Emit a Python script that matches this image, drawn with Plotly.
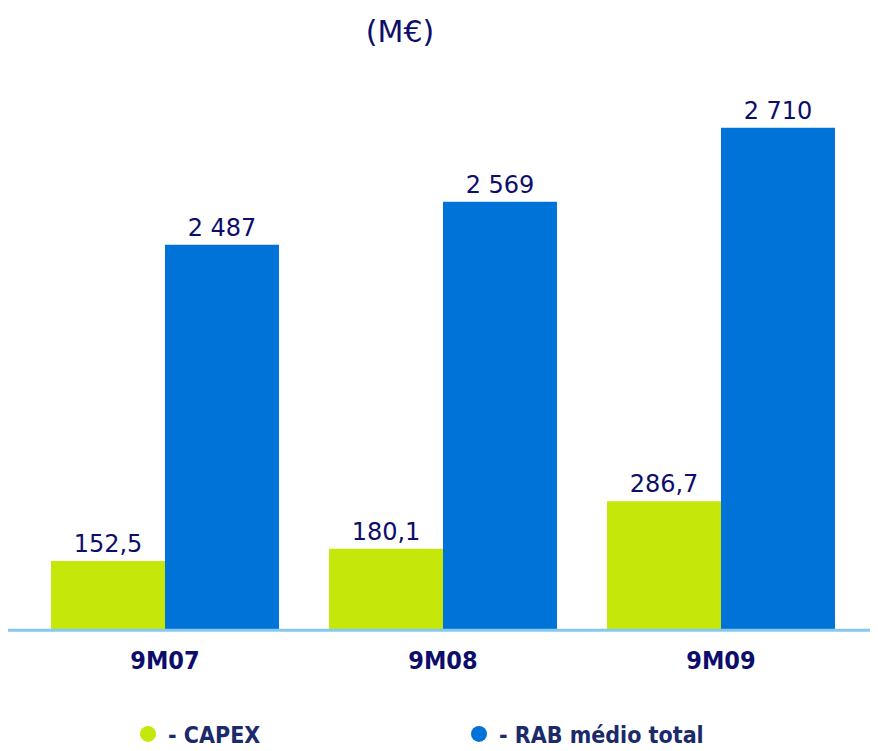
import plotly.graph_objects as go

categories = ["9M07", "9M08", "9M09"]
capex = [152.5, 180.1, 286.7]
rab = [2487, 2569, 2710]
series_names = ["- CAPEX", "- RAB médio total"]

GREEN = "#c5e80a"
BLUE = "#0073d9"
NAVY = "#0d0d6b"
LEG = "#1b2a6b"

# page body has an 8px default margin, so the figure is sized to fit the window
W, H = 870, 743


def fmt_dec(v):
    return f"{v:.1f}".replace(".", ",")


def fmt_int(v):
    return f"{v:,.0f}".replace(",", " ")


fig = go.Figure()
fig.add_trace(go.Bar(
    x=categories, y=capex, yaxis="y2", name=series_names[0],
    marker=dict(color=GREEN, line=dict(width=0)),
    width=0.41, offset=-0.41,
    text=[fmt_dec(v) for v in capex], textposition="outside",
    textfont=dict(family="DejaVu Sans", size=24, color=NAVY),
    cliponaxis=False, showlegend=False,
))
fig.add_trace(go.Bar(
    x=categories, y=rab, yaxis="y", name=series_names[1],
    marker=dict(color=BLUE, line=dict(width=0)),
    width=0.41, offset=0,
    text=[fmt_int(v) for v in rab], textposition="outside",
    textfont=dict(family="DejaVu Sans", size=24, color=NAVY),
    cliponaxis=False, showlegend=False,
))
# legend entries with round markers
for name, col in zip(series_names, [GREEN, BLUE]):
    fig.add_trace(go.Scatter(
        x=[None], y=[None], mode="markers", name=name,
        marker=dict(symbol="circle", size=20, color=col),
    ))

fig.update_layout(
    width=W, height=H,
    margin=dict(l=18, r=18, t=52, b=122),
    paper_bgcolor="white", plot_bgcolor="white",
    barmode="overlay",
    title=dict(text="(M€)", x=392 / W, xanchor="center", xref="container",
               y=1 - 23 / H, yanchor="middle", yref="container",
               font=dict(family="DejaVu Sans", size=30, color=NAVY)),
    xaxis=dict(showgrid=False, zeroline=False, showline=False,
               ticks="", ticklabelstandoff=14,
               tickfont=dict(family="DejaVu Sans Condensed, Liberation Sans Narrow, DejaVu Sans",
                             size=25, color=NAVY, weight="bold")),
    yaxis=dict(range=[1755, 2839], visible=False, showgrid=False),
    yaxis2=dict(range=[0, 1276], overlaying="y", visible=False, showgrid=False),
    legend=dict(orientation="h", xref="container", yref="container",
                x=120 / W, xanchor="left", y=1 - 726 / H, yanchor="middle",
                entrywidth=286, entrywidthmode="pixels",
                font=dict(family="DejaVu Sans Condensed, Liberation Sans Narrow, DejaVu Sans",
                          size=23, color=LEG, weight="bold"),
                bgcolor="rgba(0,0,0,0)"),
    shapes=[dict(type="line", xref="paper", yref="paper",
                 x0=-0.024, x1=1.03, y0=-0.002, y1=-0.002,
                 line=dict(color="#86c8ee", width=3))],
)

fig.write_html("out.html")
